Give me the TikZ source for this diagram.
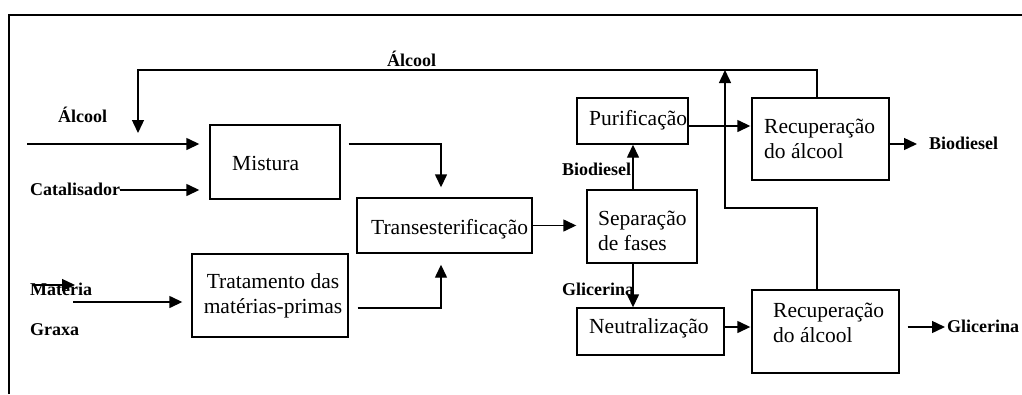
\documentclass[tikz,border=0pt]{standalone}
\usepackage{fontspec}
\setmainfont{Liberation Serif}
\usetikzlibrary{arrows.meta,calc}
\tikzset{
  boxnode/.style={draw, line width=1.4pt, inner sep=0pt},
  boxtext/.style={inner sep=0pt, anchor=base west, font=\fontsize{21.5}{25}\selectfont, align=left},
  lbl/.style={inner sep=0pt, anchor=base west, font=\fontsize{18}{21}\selectfont\bfseries},
  conn/.style={line width=1.4pt},
  arr/.style={line width=1.4pt, -{Triangle[length=13pt,width=12pt]}},
}
\begin{document}
\begin{tikzpicture}[x=1pt,y=-1pt]
\useasboundingbox (0,0) rectangle (1022,394);
% frame
\coordinate (fbl) at (9,394);
\coordinate (ftl) at (9,15);
\coordinate (ftr) at (1022,15);
\draw[line width=1.2pt] (fbl) -- (ftl) -- (ftr);

% boxes
\node[boxnode, minimum width=130pt, minimum height=74pt] (mistura) at (275,162) {};
\node[boxnode, minimum width=175pt, minimum height=55pt] (trans) at (444.5,225.5) {};
\node[boxnode, minimum width=156pt, minimum height=83pt] (trat) at (270,295.5) {};
\node[boxnode, minimum width=110pt, minimum height=73pt] (sep) at (642,226.5) {};
\node[boxnode, minimum width=111pt, minimum height=46pt] (purif) at (632.5,121) {};
\node[boxnode, minimum width=137pt, minimum height=82pt] (rec1) at (820.5,139) {};
\node[boxnode, minimum width=147pt, minimum height=47pt] (neutr) at (650.5,331.5) {};
\node[boxnode, minimum width=147pt, minimum height=83pt] (rec2) at (825.5,331.5) {};

% box texts (multi-line: base = last line's baseline)
\node[boxtext] (tmistura) at (232,170) {Mistura};
\node[boxtext] (ttrans) at (371,234) {Transesterificação};
\node[boxtext, align=center, anchor=base] (ttrat) at (273,313) {Tratamento das\\matérias-primas};
\node[boxtext] (tsep) at (598,250) {Separação\\de fases};
\node[boxtext] (tpurif) at (589,125) {Purificação};
\node[boxtext] (trec1) at (764,158) {Recuperação\\do álcool};
\node[boxtext] (tneutr) at (589,333) {Neutralização};
\node[boxtext] (trec2) at (773,342) {Recuperação\\do álcool};

% labels
\node[lbl] (lalc1) at (387,66) {Álcool};
\node[lbl] (lalc2) at (58,122) {Álcool};
\node[lbl] (lcat) at (30,195) {Catalisador};
\node[lbl] (lmat) at (30,295) {Matéria};
\node[lbl] (lgra) at (30,335) {Graxa};
\node[lbl] (lbio1) at (562,175) {Biodiesel};
\node[lbl] (lbio2) at (929,149) {Biodiesel};
\node[lbl] (lgli1) at (562,295) {Glicerina};
\node[lbl] (lgli2) at (947,332) {Glicerina};

% free ends
\coordinate (ain) at (27,144);
\coordinate (cin) at (120,190);
\coordinate (min) at (73,302);
\coordinate (xa) at (32,285);
\coordinate (xb) at (75,285);
\coordinate (bout) at (917,144);
\coordinate (gout) at (945,327);
\coordinate (j1) at (725,208);
\coordinate (tp) at (725,70);
\coordinate (tl) at (138,70);
\coordinate (ta) at (138,133);

% connectors
\draw[arr] (ain) -- ([xshift=-10pt,yshift=18pt]mistura.west);
\draw[arr] (cin) -- ([xshift=-10pt,yshift=-28pt]mistura.west);
\draw[arr] (min) -- ([xshift=-9pt,yshift=-6.5pt]trat.west);
\draw[arr] (xa) -- (xb);
\draw[arr] ([xshift=8pt,yshift=18pt]mistura.east) -| ([xshift=-3.5pt,yshift=10pt]trans.north);
\draw[arr] ([xshift=9pt,yshift=-12.5pt]trat.east) -| ([xshift=-3.5pt,yshift=-11pt]trans.south);
\draw[arr] (trans.east) -- ([xshift=-10pt]sep.west |- trans.east);
\draw[arr] ($(sep.north)+(-9,0)$) -- ($(sep.north |- purif.south)+(-9,0)$);
\draw[arr] ([yshift=-5pt]purif.east) -- ([xshift=-1pt,yshift=13pt]rec1.west);
\draw[arr] ([yshift=-5pt]rec1.east) -- (bout);
\draw[arr] ($(sep.south)+(-9,0)$) -- ($(sep.south |- neutr.north)+(-9,0)$);
\draw[arr] ([yshift=4.5pt]neutr.east) -- ([xshift=-1pt,yshift=4.5pt]rec2.west);
\draw[arr] ([xshift=8pt,yshift=4.5pt]rec2.east) -- (gout);
\draw[arr] ([xshift=-8.5pt]rec2.north) |- (j1) -- (tp);
\draw[arr] ([xshift=-3.5pt]rec1.north) |- (tl) -- (ta);
\end{tikzpicture}
\end{document}
